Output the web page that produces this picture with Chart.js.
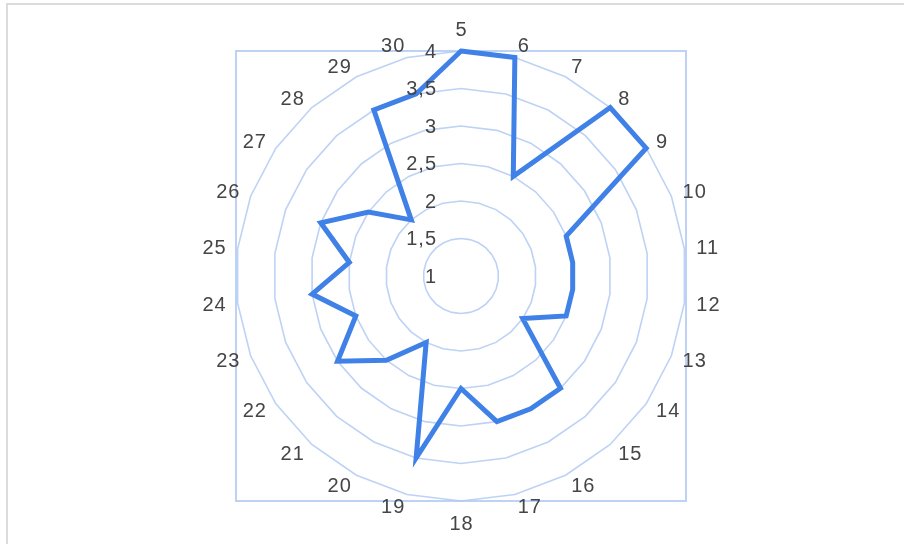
<!DOCTYPE html>
<html>
<head>
<meta charset="utf-8">
<script src="https://cdn.jsdelivr.net/npm/chart.js@4.4.1/dist/chart.umd.min.js"></script>
<style>
  html, body { margin: 0; padding: 0; background: #fff; overflow: hidden; }
  #frame { position: absolute; left: 6px; top: 3px; width: 920px; height: 560px;
           border: 2px solid #dcdcdc; box-sizing: border-box; }
  #wrap { position: absolute; left: 0; top: 0; width: 904px; height: 544px; }
</style>
</head>
<body>
<div id="frame"></div>
<div id="wrap"><canvas id="chart"></canvas></div>
<script>
// Spoke labels, clockwise from the top
const categories = ['5','6','7','8','9','10','11','12','13','14','15','16','17','18',
                    '19','20','21','22','23','24','25','26','27','28','29','30'];
// Score for each spoke
const values = [4, 4, 2.5, 4, 4, 2.5, 2.5, 2.5, 2.5, 2, 3, 3, 3, 2.5,
                3.5, 2, 2.5, 3, 2.5, 3, 2.5, 3, 2.5, 2, 3.5, 3.5];
// Radial scale range and step
const scaleMin = 1;
const scaleMax = 4;
const scaleStep = 0.5;

const gridColor = 'rgba(178, 202, 243, 0.85)';
const textColor = '#454545';
const fontFamily = '"Liberation Sans", Arial, sans-serif';
const labelFont = '20px ' + fontFamily;

const fmt = v => String(v).replace('.', ',');

// Square outline around the outer ring
const boxPlugin = {
  id: 'scaleBox',
  beforeDatasetsDraw(chart) {
    const s = chart.scales.r;
    const ctx = chart.ctx;
    const d = s.drawingArea;
    ctx.save();
    ctx.strokeStyle = gridColor;
    ctx.lineWidth = 2;
    ctx.strokeRect(s.xCenter - d, s.yCenter - d, 2 * d, 2 * d);
    ctx.restore();
  }
};

// Value labels on the vertical axis and spoke labels around the rim
const textPlugin = {
  id: 'scaleText',
  afterDatasetsDraw(chart) {
    const s = chart.scales.r;
    const ctx = chart.ctx;
    ctx.save();
    ctx.font = labelFont;
    ctx.letterSpacing = '1px';
    ctx.fillStyle = textColor;
    ctx.textBaseline = 'middle';

    ctx.textAlign = 'right';
    s.ticks.forEach(t => {
      const r = s.getDistanceFromCenterForValue(t.value);
      ctx.fillText(fmt(t.value), s.xCenter - 24, s.yCenter - r + 1);
    });

    chart.data.labels.forEach((label, i) => {
      const p = s.getPointPosition(i, s.drawingArea + 12);
      const deg = Math.round(s.getIndexAngle(i) * 180 / Math.PI) % 360;
      let x = p.x, y = p.y;
      if (deg === 0) {
        ctx.textAlign = 'center'; x += 0.5; y -= 9.5;
      } else if (deg === 180) {
        ctx.textAlign = 'center'; x += 0.5; y += 10;
      } else if (deg < 180) {
        ctx.textAlign = 'left';
      } else {
        ctx.textAlign = 'right'; x += 1;
      }
      ctx.fillText(label, x, y + 1);
    });
    ctx.restore();
  }
};

new Chart(document.getElementById('chart'), {
  type: 'radar',
  data: {
    labels: categories,
    datasets: [{
      data: values,
      borderColor: '#3f81e6',
      borderWidth: 5,
      fill: false,
      pointRadius: 0,
      pointHoverRadius: 0,
      tension: 0
    }]
  },
  options: {
    responsive: true,
    maintainAspectRatio: false,
    animation: false,
    layout: { padding: { top: 51, bottom: 43, left: 18, right: 0 } },
    plugins: { legend: { display: false }, tooltip: { enabled: false } },
    scales: {
      r: {
        min: scaleMin,
        max: scaleMax,
        ticks: { stepSize: scaleStep, display: false },
        angleLines: { display: false },
        grid: { color: gridColor, lineWidth: 1.6 },
        pointLabels: { display: false }
      }
    }
  },
  plugins: [boxPlugin, textPlugin]
});
</script>
</body>
</html>
